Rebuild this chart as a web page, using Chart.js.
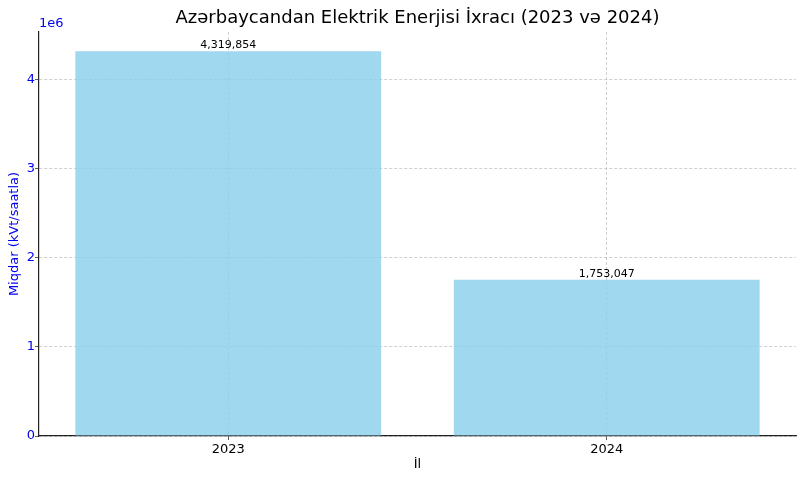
<!DOCTYPE html>
<html>
<head>
<meta charset="utf-8">
<script src="https://cdn.jsdelivr.net/npm/chart.js@4/dist/chart.umd.min.js"></script>
<style>
  html, body { margin: 0; padding: 0; background: #fff; }
  #wrap { width: 804px; height: 480px; }
</style>
</head>
<body>
<div id="wrap"><canvas id="chart"></canvas></div>
<script>
const years = ['2023', '2024'];
const exports = [4319854, 1753047];
const yTicks = [0, 1000000, 2000000, 3000000, 4000000];

const FONT = 'DejaVu Sans';
const BLUE = '#0000ee';
const TITLE = 'Azərbaycandan Elektrik Enerjisi İxracı (2023 və 2024)';

// title centred over the plot area, value labels, and the "1e6" offset text
const extras = {
  id: 'extras',
  afterDatasetsDraw(chart) {
    const ctx = chart.ctx;
    const area = chart.chartArea;
    const meta = chart.getDatasetMeta(0);
    ctx.save();
    ctx.font = '18px "' + FONT + '"';
    ctx.fillStyle = '#000';
    ctx.textAlign = 'center';
    ctx.textBaseline = 'middle';
    ctx.fillText(TITLE, (area.left + area.right) / 2, 18);

    ctx.font = '11px "' + FONT + '"';
    ctx.textBaseline = 'bottom';
    meta.data.forEach((bar, i) => {
      ctx.fillText(exports[i].toLocaleString('en-US'), bar.x, bar.y - 0.5);
    });

    ctx.font = '13px "' + FONT + '"';
    ctx.fillStyle = BLUE;
    ctx.textAlign = 'left';
    ctx.textBaseline = 'alphabetic';
    ctx.fillText('1e6', area.left, area.top - 5);
    ctx.restore();
  }
};

const gridColor = 'rgba(176,176,176,0.75)';

new Chart(document.getElementById('chart'), {
  type: 'bar',
  data: {
    labels: years,
    datasets: [{
      data: exports,
      backgroundColor: 'rgba(135,206,235,0.8)',
      borderWidth: 0,
      categoryPercentage: 1,
      barPercentage: 0.808
    }]
  },
  options: {
    responsive: true,
    maintainAspectRatio: false,
    animation: false,
    devicePixelRatio: 1,
    layout: { padding: { left: 0, right: 8, top: 32, bottom: 0 } },
    plugins: {
      legend: { display: false },
      tooltip: { enabled: false },
      title: { display: false }
    },
    scales: {
      x: {
        offset: true,
        grid: {
          offset: false,
          color: gridColor,
          lineWidth: 0.8,
          drawTicks: true,
          tickLength: 4,
          tickColor: '#333',
          tickBorderDash: []
        },
        border: { display: true, color: '#222', width: 1.2, dash: [3, 2] },
        ticks: {
          color: '#000',
          padding: 2,
          font: { family: FONT, size: 13 }
        },
        title: {
          display: true,
          text: 'İl',
          color: '#000',
          font: { family: FONT, size: 13 },
          padding: { top: 2, bottom: 8 }
        },
        afterFit(scale) { scale.height = 44; }
      },
      y: {
        min: 0,
        max: 4535847,
        afterBuildTicks(scale) {
          scale.ticks = yTicks.map(v => ({ value: v }));
        },
        grid: {
          color: gridColor,
          lineWidth: 0.8,
          drawTicks: true,
          tickLength: 4,
          tickColor: '#333',
          tickBorderDash: []
        },
        border: { display: true, color: '#222', width: 1.2, dash: [3, 2] },
        ticks: {
          color: BLUE,
          padding: 0,
          font: { family: FONT, size: 13 },
          callback: v => String(v / 1000000)
        },
        title: {
          display: true,
          text: 'Miqdar (kVt/saatla)',
          color: BLUE,
          font: { family: FONT, size: 13 },
          padding: { top: 7, bottom: 0 }
        },
        afterFit(scale) { scale.width = 39; }
      }
    }
  },
  plugins: [extras]
});
</script>
</body>
</html>
